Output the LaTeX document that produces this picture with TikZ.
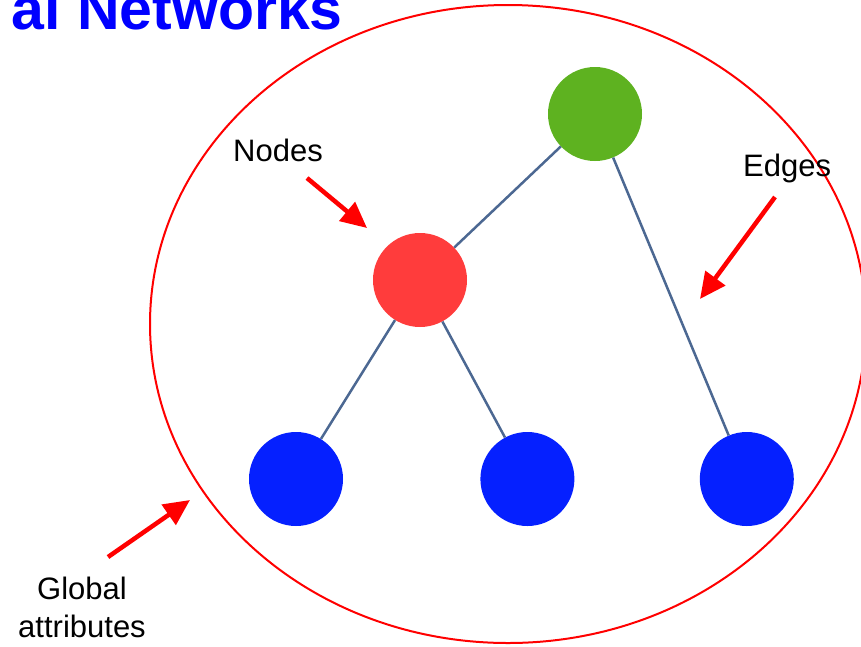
\documentclass[tikz,border=0pt]{standalone}
\usepackage{fontspec}
\setmainfont{Liberation Sans}
\usepackage{tikz}
\usetikzlibrary{arrows.meta}
\usetikzlibrary{positioning}

\definecolor{rootgreen}{RGB}{94,178,32}
\definecolor{midred}{RGB}{255,60,60}
\definecolor{leafblue}{RGB}{5,32,255}
\definecolor{linkgray}{RGB}{76,104,146}

\begin{document}
\begin{tikzpicture}[x=1pt,y=-1pt,>={Triangle[length=26pt,width=24pt]},
  minimum size=94pt]

  \tikzstyle{vertex}=[circle,inner sep=0pt];
  \tikzstyle{root}=[vertex,fill=rootgreen];
  \tikzstyle{mid}=[vertex,fill=midred];
  \tikzstyle{leaf}=[vertex,fill=leafblue];
  \tikzstyle{callout}=[font=\fontsize{31}{38}\selectfont,inner sep=0pt,minimum size=0pt];
  \tikzstyle{pointer}=[->,draw=red,fill=red,line width=4.5pt];
  \tikzstyle{link}=[draw=linkgray,line width=2.5pt];

  \useasboundingbox (0,0) rectangle (861,646);

  \node[font=\fontsize{59}{70}\selectfont\bfseries,text=blue,inner sep=0pt,
        minimum size=0pt,anchor=base east] (title) at (343,29) {al Networks};

  \draw[red,line width=2pt] (508,324) ellipse [x radius=358pt,y radius=319pt];

  \node[root]  (top)   at (595,114) {};
  \node[mid]   (inner) at (420,280) {};
  \node[leaf]  (leafA) at (296,479) {};
  \node[leaf]  (leafB) [right=137pt of leafA] {};
  \node[leaf]  (leafC) [right=125pt of leafB] {};

  \path[link]
    (top)   edge (inner)
            edge (leafC)
    (inner) edge (leafA)
            edge (leafB)
  ;

  \node[callout,anchor=base west] (nodeslbl) at (233,161) {Nodes};
  \node[callout,anchor=base west] (edgeslbl) at (743,176) {Edges};
  \node[callout,align=center,anchor=base] (globallbl) at (82,637)
    {Global\\attributes};

  \coordinate (nodestail)  at (307,178);
  \coordinate (nodestip)   at (367,228);
  \coordinate (edgestail)  at (775,197);
  \coordinate (edgestip)   at (700,299);
  \coordinate (globaltail) at (108,557);
  \coordinate (globaltip)  at (190,500);

  \draw[pointer] (nodestail)  -- (nodestip);
  \draw[pointer] (edgestail)  -- (edgestip);
  \draw[pointer] (globaltail) -- (globaltip);

\end{tikzpicture}
\end{document}
